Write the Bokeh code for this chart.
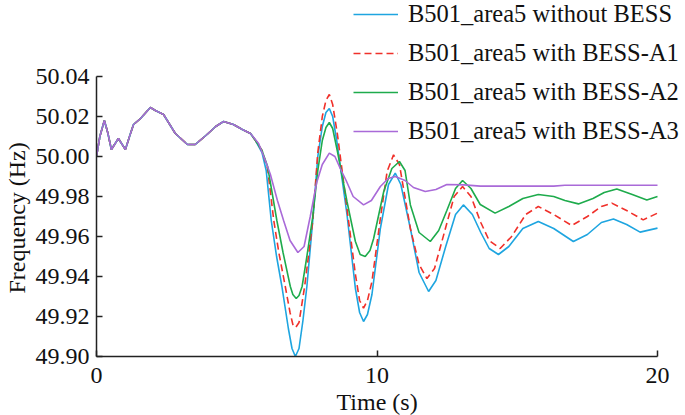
from bokeh.plotting import figure
from bokeh.models import (Range1d, FixedTicker, Legend, LegendItem, NumeralTickFormatter,
                          Title)
from bokeh.embed import file_html
from bokeh.resources import INLINE

# ---- data ----
t_common = [0.0, 0.12, 0.28, 0.4, 0.53, 0.78, 1.03, 1.2, 1.32, 1.57, 1.92, 2.1, 2.39,
            2.81, 3.24, 3.52, 3.94, 4.25, 4.53, 4.88, 5.2, 5.49]
f_common = [50.000, 50.010, 50.018, 50.012, 50.0035, 50.009, 50.0035, 50.011, 50.016,
            50.019, 50.0245, 50.023, 50.021, 50.0115, 50.006, 50.006, 50.011, 50.015,
            50.0175, 50.016, 50.0135, 50.0115]

t_none = [5.67, 5.9, 6.05, 6.23, 6.42, 6.61, 6.84, 6.97, 7.09, 7.22, 7.36, 7.5, 7.71, 7.89,
          8.05, 8.18, 8.3, 8.42, 8.57, 8.93, 9.23, 9.38, 9.52, 9.66, 9.82, 10.12, 10.41,
          10.65, 10.85, 11.19, 11.5, 11.84, 12.1, 12.45, 12.8, 13.08, 13.4, 13.7, 14.0,
          14.33, 14.7, 15.2, 15.75, 16.3, 17.0, 17.5, 18.0, 18.43, 18.9, 19.38, 20.0]
f_none = [50.008, 50.002, 49.993, 49.968, 49.950, 49.935, 49.914, 49.904, 49.900, 49.904,
          49.918, 49.935, 49.968, 50.000, 50.015, 50.022, 50.024, 50.020, 50.0075, 49.971,
          49.934, 49.922, 49.9175, 49.921, 49.931, 49.964, 49.986, 49.9917, 49.986, 49.964,
          49.942, 49.9325, 49.938, 49.955, 49.971, 49.9758, 49.971, 49.962, 49.954, 49.951,
          49.955, 49.964, 49.9675, 49.964, 49.9575, 49.961, 49.967, 49.9687, 49.966,
          49.9622, 49.9642]

t_a1 = [5.67, 5.9, 6.1, 6.32, 6.5, 6.73, 6.9, 7.0, 7.1, 7.22, 7.42, 7.6, 7.71, 7.89, 8.05,
        8.18, 8.3, 8.42, 8.59, 8.93, 9.23, 9.38, 9.52, 9.66, 9.82, 10.12, 10.36, 10.59,
        10.8, 11.19, 11.5, 11.78, 12.05, 12.4, 12.75, 13.05, 13.35, 13.7, 14.0, 14.39,
        14.8, 15.3, 15.75, 16.3, 16.94, 17.5, 18.0, 18.37, 18.9, 19.49, 20.0]
f_a1 = [50.008, 50.003, 49.994, 49.968, 49.952, 49.935, 49.922, 49.916, 49.9145, 49.917,
        49.935, 49.955, 49.968, 50.002, 50.020, 50.028, 50.031, 50.026, 50.011, 49.974,
        49.941, 49.928, 49.9242, 49.928, 49.9375, 49.969, 49.9925, 50.0008, 49.996,
        49.964, 49.946, 49.939, 49.944, 49.962, 49.980, 49.985, 49.980, 49.967, 49.958,
        49.954, 49.960, 49.971, 49.975, 49.971, 49.9655, 49.970, 49.975, 49.9767, 49.973,
        49.9683, 49.9717]

t_a2 = [5.67, 5.9, 6.1, 6.43, 6.65, 6.91, 7.0, 7.12, 7.22, 7.33, 7.5, 7.71, 7.89, 8.05,
        8.18, 8.3, 8.42, 8.59, 8.93, 9.23, 9.4, 9.58, 9.75, 9.88, 10.24, 10.53, 10.8, 11.0,
        11.19, 11.5, 11.9, 12.2, 12.49, 12.8, 13.05, 13.35, 13.68, 14.21, 14.7, 15.2,
        15.75, 16.3, 16.7, 17.18, 17.7, 18.1, 18.55, 19.1, 19.62, 20.0]
f_a2 = [50.008, 50.003, 49.995, 49.968, 49.952, 49.935, 49.931, 49.929, 49.9305, 49.935,
        49.950, 49.970, 49.993, 50.008, 50.0145, 50.017, 50.014, 50.0025, 49.9775,
        49.9575, 49.951, 49.950, 49.953, 49.959, 49.9825, 49.994, 49.9975, 49.993,
        49.9758, 49.962, 49.9575, 49.963, 49.973, 49.984, 49.988, 49.984, 49.976,
        49.9717, 49.975, 49.979, 49.981, 49.980, 49.978, 49.9763, 49.979, 49.982,
        49.9838, 49.981, 49.9783, 49.980]

t_a3 = [5.78, 6.02, 6.2, 6.45, 6.67, 6.9, 7.18, 7.4, 7.62, 7.85, 8.05, 8.3, 8.5, 8.69, 8.9,
        9.15, 9.52, 9.8, 10.12, 10.4, 10.65, 11.0, 11.3, 11.72, 12.1, 12.49, 13.1, 13.68,
        16.3, 16.7, 20.0]
f_a3 = [50.0065, 49.998, 49.991, 49.978, 49.968, 49.958, 49.952, 49.955, 49.970, 49.987,
        49.996, 50.0017, 50.000, 49.994, 49.988, 49.980, 49.9758, 49.978, 49.985, 49.989,
        49.990, 49.988, 49.9845, 49.9825, 49.9835, 49.986, 49.9858, 49.9852, 49.9852,
        49.9856, 49.9856]

labels = ["B501_area5 without BESS", "B501_area5 with BESS-A1",
          "B501_area5 with BESS-A2", "B501_area5 with BESS-A3"]
y_ticks = [49.90, 49.92, 49.94, 49.96, 49.98, 50.00, 50.02, 50.04]
x_ticks = [0, 10, 20]
x_label = "Time (s)"
y_label = "Frequency (Hz)"

FONT = "Liberation Serif"

# layout geometry (pixels inside the figure)
W, H = 685, 415
LEFT = 96            # y axis line
AXIS_Y = 356         # x axis line
frame_w = W - LEFT
frame_h = AXIS_Y
px_x = (657 - 96) / 20.0
y_top_px = 76
px_y = (frame_h - y_top_px) / 0.14
x_end = frame_w / px_x
y_end = 50.04 + y_top_px / px_y

p = figure(width=W, height=H, output_backend="svg", toolbar_location=None,
           x_range=Range1d(0, x_end), y_range=Range1d(49.90, y_end),
           min_border_left=LEFT, min_border_right=0, min_border_top=0,
           min_border_bottom=H - AXIS_Y)
p.outline_line_color = None
p.xgrid.visible = False
p.ygrid.visible = False
p.background_fill_color = "white"
p.border_fill_color = "white"

series = [
    (t_none, f_none, "#1ea5e0", None),
    (t_a1, f_a1, "#f0302a", "7 4"),
    (t_a2, f_a2, "#1eab4c", None),
    (t_a3, f_a3, "#a96ad8", None),
]
renderers = []
for ts, fs, col, dash in series:
    kw = dict(line_color=col, line_width=1.6)
    if dash:
        kw["line_dash"] = dash
    renderers.append(p.line(t_common + ts, f_common + fs, **kw))

for ax in (p.xaxis[0], p.yaxis[0]):
    ax.axis_line_color = "#222222"
    ax.axis_line_width = 1.5
    ax.major_tick_line_color = "#222222"
    ax.major_tick_line_width = 1.5
    ax.major_tick_in = 6
    ax.major_tick_out = 0
    ax.minor_tick_line_color = None
    ax.major_label_text_font = FONT
    ax.major_label_text_font_size = "24px"
    ax.major_label_text_color = "#111111"

p.xaxis[0].bounds = (0, 20)
p.yaxis[0].bounds = (49.90, 50.04)
p.xaxis[0].ticker = FixedTicker(ticks=x_ticks)
p.yaxis[0].ticker = FixedTicker(ticks=y_ticks)
p.yaxis[0].formatter = NumeralTickFormatter(format="0.00")
p.xaxis[0].major_label_standoff = 11
p.yaxis[0].major_label_standoff = 7

xt = Title(text=x_label, align="left", offset=240, standoff=2,
           text_font=FONT, text_font_size="24px", text_font_style="normal",
           text_color="#111111")
p.add_layout(xt, "below")
yt = Title(text=y_label, align="left", vertical_align="top", offset=63, standoff=2,
           text_font=FONT, text_font_size="24px", text_font_style="normal",
           text_color="#111111")
p.add_layout(yt, "left")

items = [LegendItem(label=lab, renderers=[r]) for lab, r in zip(labels, renderers)]
legend = Legend(items=items, location=(257, frame_h - 145),
                orientation="vertical",
                glyph_width=45, glyph_height=28, label_height=28, spacing=11,
                padding=0, margin=0, label_standoff=10,
                border_line_color=None, background_fill_alpha=0,
                label_text_font=FONT, label_text_font_size="24.5px",
                label_text_color="#111111")
p.add_layout(legend, "center")

open("out.html", "w").write(file_html(p, INLINE))
